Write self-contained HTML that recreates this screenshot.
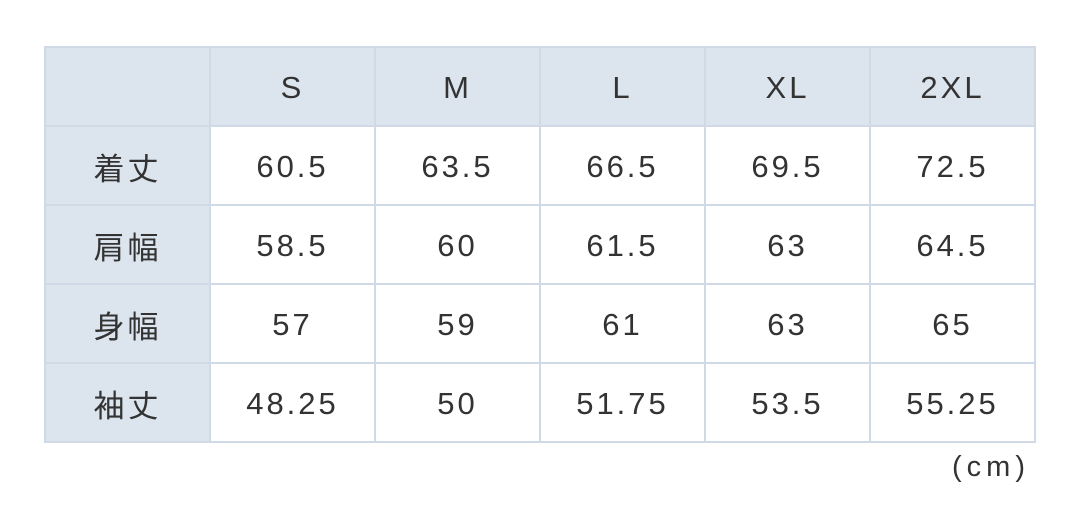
<!DOCTYPE html>
<html><head><meta charset="utf-8"><style>
body{margin:0;width:1080px;height:524px;background:#fff;overflow:hidden;position:relative;font-family:"Liberation Sans","Noto Sans CJK JP",sans-serif;color:#333}
table{position:absolute;left:44px;top:46px;border-collapse:collapse;table-layout:fixed}
td{width:165px;height:79px;border:2px solid #d0d9e6;text-align:center;font-size:31px;letter-spacing:3px;padding:0;box-sizing:border-box;padding-top:2px}
tr:first-child td{background:#dce4ee}
td:first-child{background:#dce4ee}
.cm{position:absolute;left:952px;top:451px;font-size:29px;letter-spacing:5px}
</style></head><body>
<table>
<tr><td></td><td>S</td><td>M</td><td>L</td><td>XL</td><td>2XL</td></tr>
<tr><td>着丈</td><td>60.5</td><td>63.5</td><td>66.5</td><td>69.5</td><td>72.5</td></tr>
<tr><td>肩幅</td><td>58.5</td><td>60</td><td>61.5</td><td>63</td><td>64.5</td></tr>
<tr><td>身幅</td><td>57</td><td>59</td><td>61</td><td>63</td><td>65</td></tr>
<tr><td>袖丈</td><td>48.25</td><td>50</td><td>51.75</td><td>53.5</td><td>55.25</td></tr>
</table>
<div class="cm">(cm)</div>
</body></html>
